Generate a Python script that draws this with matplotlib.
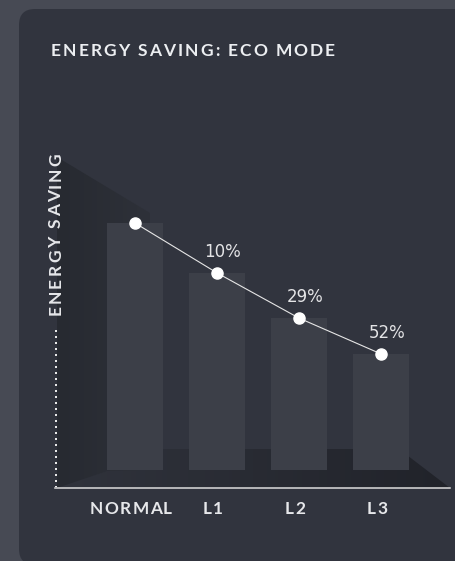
import numpy as np
import matplotlib
matplotlib.use("Agg")
import matplotlib.pyplot as plt
from matplotlib.patches import FancyBboxPatch, Polygon
from matplotlib.font_manager import FontProperties, findfont, get_font
from matplotlib.transforms import IdentityTransform
from matplotlib.colors import to_rgb

# ---- data ----
categories = ["NORMAL", "L1", "L2", "L3"]
consumption = [100, 79.8, 61.5, 47.0]
saving_labels = ["", "10%", "29%", "52%"]
title = "ENERGY SAVING: ECO MODE"
ylabel = "ENERGY SAVING"

W, H = 456, 561
fig = plt.figure(figsize=(W / 100, H / 100), dpi=100)
fig.patch.set_facecolor("#474a54")

# ---- background / decorative layer (pixel coords, top-left origin) ----
bg = fig.add_axes([0, 0, 1, 1])
bg.axis("off")
bg.add_patch(FancyBboxPatch((19, 9), 470, 556, boxstyle="round,pad=0,rounding_size=16",
                            fc="#31343e", ec="none", zorder=0))


def grad_poly(ax, pts, c0, c1):
    xs = [p[0] for p in pts]
    ys = [p[1] for p in pts]
    a = np.array(to_rgb(c0))
    b = np.array(to_rgb(c1))
    t = np.linspace(0, 1, 256)[None, :, None]
    img = a + (b - a) * t
    poly = Polygon(pts, closed=True, fc="none", ec="none")
    ax.add_patch(poly)
    im = ax.imshow(img, extent=(min(xs), max(xs), max(ys), min(ys)), aspect="auto",
                   interpolation="bilinear", zorder=1)
    im.set_clip_path(poly)


grad_poly(bg, [(57, 488), (57, 449), (399, 449), (450, 488)], "#30333c", "#21232a")
grad_poly(bg, [(57, 157), (150, 213), (150, 470), (107, 471), (57, 488)], "#272a31", "#2e3139")

bg.plot([56.5, 56.5], [330, 487], color="#e8e8e8", lw=1.44, ls=(0, (1, 2)),
        dash_capstyle="butt", zorder=2)
bg.set_xlim(0, W)
bg.set_ylim(H, 0)

# ---- data axes ----
ax = fig.add_axes([55 / W, 1 - 488 / H, 395 / W, 338 / H])
ax.patch.set_alpha(0)
x = np.arange(len(categories))
ax.bar(x, consumption, width=0.68, color="#3c3f48", zorder=2)
ax.plot(x, consumption, color="#e6e6e6", lw=0.8, marker="o", ms=8,
        mfc="white", mec="white", zorder=3)
for i, lab in enumerate(saving_labels):
    if lab:
        ax.annotate(lab, (x[i], consumption[i]), xytext=(4.2, 11.5),
                    textcoords="offset points", ha="center", va="baseline",
                    fontsize=12, color="#e4e4e6", family="DejaVu Sans")
ax.set_xlim(-80 / 82, 315 / 82)
ax.set_ylim(-18 / 2.47, 320 / 2.47)
for s in ["left", "right", "top"]:
    ax.spines[s].set_visible(False)
ax.spines["bottom"].set_color("#dcdcdc")
ax.spines["bottom"].set_linewidth(1.1)
ax.set_xticks([])
ax.set_yticks([])


# ---- letter-spaced text helper ----
def advances(s, prop, size):
    font = get_font(findfont(prop))
    font.set_size(size, 100)
    return [font.load_char(ord(ch)).linearHoriAdvance / 65536 for ch in s]


def tracked(s, x, y, size, color, target=None, tracking=0.0, rotation=0,
            align="left", family="Lato", weight="bold"):
    prop = FontProperties(family=family, weight=weight, size=size)
    advs = advances(s, prop, size)
    n = len(s)
    if target is not None and n > 1:
        tracking = (target - sum(advs)) / (n - 1)
    total = sum(advs) + tracking * (n - 1)
    d = -total / 2 if align == "center" else 0.0
    c, sn = np.cos(np.deg2rad(rotation)), np.sin(np.deg2rad(rotation))
    for ch, a in zip(s, advs):
        if ch != " ":
            fig.text(x + d * c, y + d * sn, ch, transform=IdentityTransform(),
                     fontproperties=prop, color=color, rotation=rotation,
                     rotation_mode="anchor", ha="left", va="baseline")
        d += a + tracking
    return tracking


tracked(title, 51, H - 55.7, 12.5, "#eceef1", target=284)
tracked(ylabel, 61, H - 315, 12.5, "#e6e7ea", target=162, rotation=90)

tsize = 12.4
tprop = FontProperties(family="Lato", weight="bold", size=tsize)
tick_track = (82 - sum(advances("NORMAL", tprop, tsize))) / 5
for i, cat in enumerate(categories):
    cx = ax.transData.transform((x[i], 0))[0] - 4
    tracked(cat, cx, H - 514.5, tsize, "#e6e7ea", tracking=tick_track, align="center")

fig.savefig("out.png", dpi=100, facecolor=fig.get_facecolor())
